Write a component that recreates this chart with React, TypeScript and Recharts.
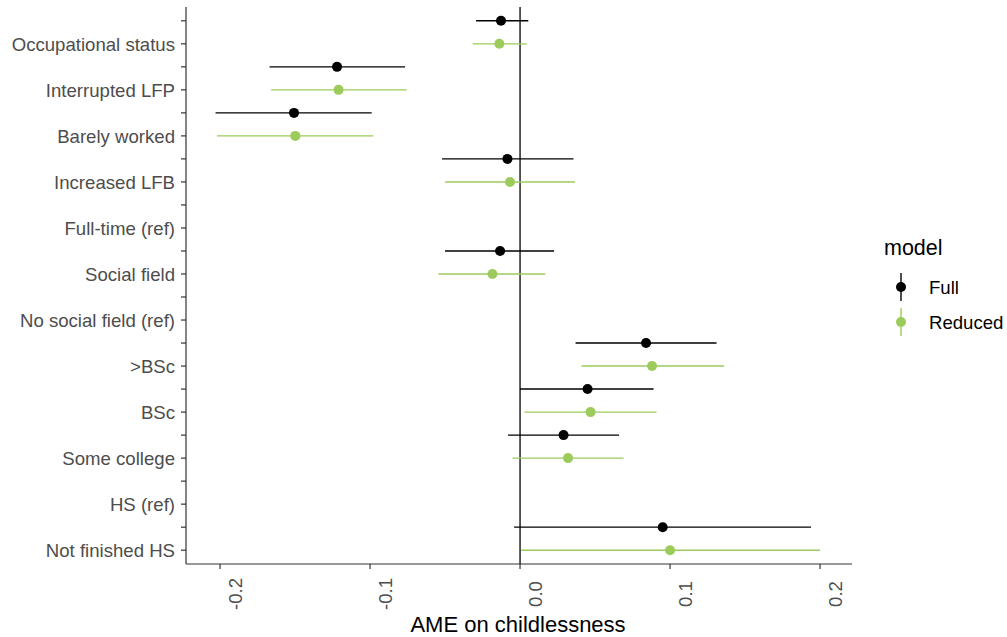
import React from 'react';
import { ErrorBar, ReferenceLine, Scatter, ScatterChart, XAxis, YAxis } from 'recharts';

// top to bottom, as drawn
const categories = [
  'Occupational status',
  'Interrupted LFP',
  'Barely worked',
  'Increased LFB',
  'Full-time (ref)',
  'Social field',
  'No social field (ref)',
  '>BSc',
  'BSc',
  'Some college',
  'HS (ref)',
  'Not finished HS',
];

const fullEst = [-0.0127, -0.122, -0.1507, -0.0084, null, -0.0133, null, 0.084, 0.045, 0.029, null, 0.0951];
const fullLo = [-0.0293, -0.167, -0.203, -0.052, null, -0.05, null, 0.037, 0.0, -0.008, null, -0.004];
const fullHi = [0.0055, -0.0767, -0.0989, 0.0356, null, 0.0227, null, 0.131, 0.089, 0.066, null, 0.194];

const reducedEst = [-0.0138, -0.121, -0.1498, -0.0067, null, -0.0184, null, 0.088, 0.047, 0.032, null, 0.1];
const reducedLo = [-0.0316, -0.166, -0.202, -0.05, null, -0.0544, null, 0.041, 0.003, -0.005, null, 0.0007];
const reducedHi = [0.0045, -0.0756, -0.0978, 0.0367, null, 0.0167, null, 0.136, 0.091, 0.069, null, 0.2];

const xTicks = [-0.2, -0.1, 0, 0.1, 0.2];
const models = ['Full', 'Reduced'];

const COLORS = { Full: '#000000', Reduced: '#9ccb5c' };
const FONT = '"Liberation Sans", Arial, Helvetica, sans-serif';
const TICK_FS = 18.6;

type Row = { x: number; y: number; err: [number, number] };

function buildRows(est: (number | null)[], lo: (number | null)[], hi: (number | null)[], offset: number): Row[] {
  const rows: Row[] = [];
  est.forEach((e, i) => {
    if (e == null || lo[i] == null || hi[i] == null) return;
    rows.push({ x: e, y: i * 2 + offset, err: [e - (lo[i] as number), (hi[i] as number) - e] });
  });
  return rows;
}

const fullRows = buildRows(fullEst, fullLo, fullHi, 0);
const reducedRows = buildRows(reducedEst, reducedLo, reducedHi, 1);
const yTicks = Array.from({ length: categories.length * 2 }, (_, i) => i);

function XTick(props: any) {
  const { x, payload } = props;
  return (
    <text
      transform={`translate(${x + 22},594) rotate(-90)`}
      textAnchor="middle"
      fontSize={TICK_FS}
      fontFamily={FONT}
      fill="#4d4d4d"
    >
      {Number(payload.value).toFixed(1)}
    </text>
  );
}

function YTick(props: any) {
  const { y, payload } = props;
  const v = payload.value as number;
  if (v % 2 !== 1) return null;
  return (
    <text x={175} y={y + 7} textAnchor="end" fontSize={TICK_FS} fontFamily={FONT} fill="#4d4d4d">
      {categories[(v - 1) / 2]}
    </text>
  );
}

function dot(color: string) {
  return (p: any) => <circle cx={p.cx} cy={p.cy} r={5} fill={color} />;
}

export default function App() {
  return (
    <div style={{ position: 'absolute', left: 0, top: 0, background: '#fff' }}>
      <ScatterChart width={1007} height={637} margin={{ top: 7, right: 155, bottom: 0, left: 0 }}>
        <XAxis
          dataKey="x"
          type="number"
          domain={[-0.2227, 0.2213]}
          allowDataOverflow
          ticks={xTicks}
          interval={0}
          height={73}
          tickSize={5}
          stroke="#333333"
          tickLine={{ stroke: '#333333', strokeWidth: 1.2 }}
          axisLine={{ stroke: '#333333', strokeWidth: 1.2 }}
          tick={<XTick />}
        />
        <YAxis
          dataKey="y"
          type="number"
          domain={[-0.6, 23.6]}
          reversed
          allowDataOverflow
          ticks={yTicks}
          interval={0}
          width={186}
          tickSize={5}
          stroke="#333333"
          tickLine={{ stroke: '#333333', strokeWidth: 1.2 }}
          axisLine={{ stroke: '#333333', strokeWidth: 1.2 }}
          tick={<YTick />}
        />
        <ReferenceLine x={0} stroke="#000000" strokeWidth={1.3} />
        <Scatter name="Full" data={fullRows} shape={dot(COLORS.Full)} isAnimationActive={false}>
          <ErrorBar dataKey="err" direction="x" width={0} stroke={COLORS.Full} strokeWidth={1.4} isAnimationActive={false} />
        </Scatter>
        <Scatter name="Reduced" data={reducedRows} shape={dot(COLORS.Reduced)} isAnimationActive={false}>
          <ErrorBar dataKey="err" direction="x" width={0} stroke={COLORS.Reduced} strokeWidth={1.4} isAnimationActive={false} />
        </Scatter>

        <text x={518} y={632} textAnchor="middle" fontSize={22} fontFamily={FONT} fill="#000">
          AME on childlessness
        </text>

        <g fontFamily={FONT}>
          <text x={884} y={255} fontSize={21.5} fill="#000">
            model
          </text>
          {models.map((m, i) => {
            const cy = 287 + i * 35;
            const c = COLORS[m as keyof typeof COLORS];
            return (
              <g key={m}>
                <line x1={901} x2={901} y1={cy - 14} y2={cy + 14} stroke={c} strokeWidth={1.4} />
                <circle cx={901} cy={cy} r={5} fill={c} />
                <text x={929} y={cy + 7} fontSize={TICK_FS} fill="#000">
                  {m}
                </text>
              </g>
            );
          })}
        </g>
      </ScatterChart>
    </div>
  );
}
